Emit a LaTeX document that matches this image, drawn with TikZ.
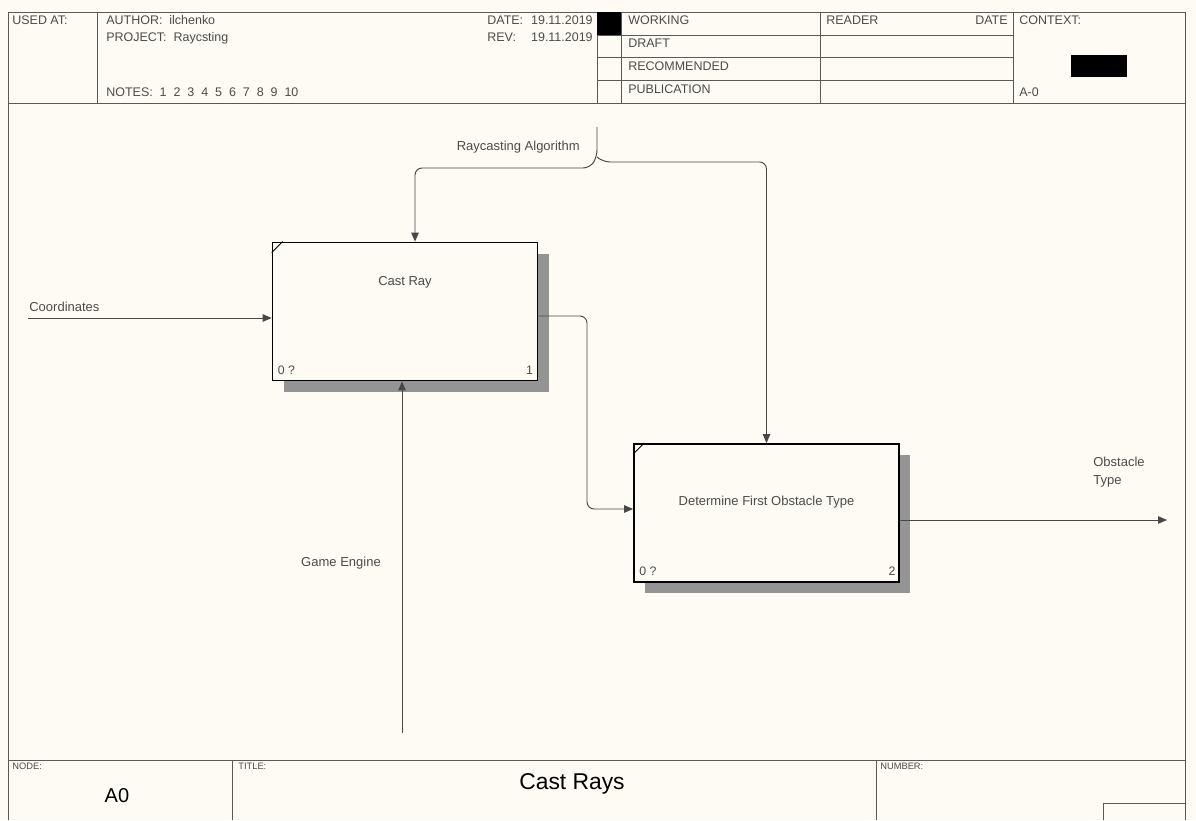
\documentclass[tikz,border=0pt]{standalone}
\usepackage{fontspec}
\setmainfont{Liberation Sans}
\usetikzlibrary{arrows.meta,positioning,calc,shadows}

\definecolor{paper}{RGB}{254,251,245}
\definecolor{ink}{RGB}{75,75,75}

\begin{document}
\begin{tikzpicture}[
    font=\fontsize{7.4}{9.7}\selectfont,
    frameline/.style={draw=black!65, line width=0.55pt},
    func/.style={draw=black, fill=paper, line width=1pt, minimum width=5.3cm, minimum height=2.76cm,
        drop shadow={shadow xshift=0.22cm, shadow yshift=-0.22cm, fill=black!42, opacity=1}},
    flow/.style={-{Triangle[length=1.8mm, width=1.5mm]}, draw=black!72, line width=0.55pt, rounded corners=4pt},
    hdr/.style={anchor=base west, inner sep=0pt, text=ink, font=\fontsize{7.1}{8}\selectfont},
    tag/.style={anchor=base west, inner sep=0pt, text=ink, font=\fontsize{5.3}{6}\selectfont},
    lbl/.style={inner sep=0pt, text=ink, align=left},
    corner/.style={inner sep=0pt, text=ink, font=\fontsize{7}{8}\selectfont}
]

    % Paper and outer frame
    \fill[paper] (0,0) rectangle (23.92,16.4);
    \draw[frameline] (0.16,0) -- (0.16,16.16) -- (23.7,16.16) -- (23.7,0);

    % Header block
    \draw[frameline] (0.16,14.34) -- (23.7,14.34);
    \draw[frameline] (1.94,16.16) -- (1.94,14.34);
    \draw[frameline] (11.94,16.16) -- (11.94,14.34);
    \draw[frameline] (12.42,16.16) -- (12.42,14.34);
    \draw[frameline] (16.4,16.16) -- (16.4,14.34);
    \draw[frameline] (20.26,16.16) -- (20.26,14.34);
    \foreach \y in {15.7,15.26,14.8}
        \draw[frameline] (11.94,\y) -- (20.26,\y);
    \fill[black] (11.94,16.16) rectangle (12.42,15.7);
    \fill[black] (21.42,15.3) rectangle (22.54,14.86);

    \node[hdr] (used_at) at (0.24,15.9) {USED AT:};
    \node[hdr] (author) at (2.12,15.9) {AUTHOR:\ \ ilchenko};
    \node[hdr] (project) at (2.12,15.56) {PROJECT:\ \ Raycsting};
    \node[hdr] (notes) at (2.12,14.46) {NOTES:\ \ 1\ \ 2\ \ 3\ \ 4\ \ 5\ \ 6\ \ 7\ \ 8\ \ 9\ \ 10};
    \node[hdr] (date_lbl) at (9.74,15.9) {DATE:};
    \node[hdr, anchor=base east] (date_val) at (11.86,15.9) {19.11.2019};
    \node[hdr] (rev_lbl) at (9.74,15.56) {REV:};
    \node[hdr, anchor=base east] (rev_val) at (11.86,15.56) {19.11.2019};
    \node[hdr] (working) at (12.56,15.9) {WORKING};
    \node[hdr] (draft) at (12.56,15.44) {DRAFT};
    \node[hdr] (recommended) at (12.56,14.98) {RECOMMENDED};
    \node[hdr] (publication) at (12.56,14.52) {PUBLICATION};
    \node[hdr] (reader) at (16.52,15.9) {READER};
    \node[hdr, anchor=base east] (reader_date) at (20.16,15.9) {DATE};
    \node[hdr] (context) at (20.38,15.9) {CONTEXT:};
    \node[hdr] (ctx_node) at (20.38,14.46) {A-0};

    % Footer block
    \draw[frameline] (0.16,1.2) -- (23.7,1.2);
    \draw[frameline] (4.64,1.2) -- (4.64,0);
    \draw[frameline] (17.52,1.2) -- (17.52,0);
    \draw[frameline] (22.06,0) |- (23.7,0.34);
    \node[tag] (node_tag) at (0.24,1.02) {NODE:};
    \node[tag] (title_tag) at (4.76,1.02) {TITLE:};
    \node[tag] (number_tag) at (17.6,1.02) {NUMBER:};
    \node[inner sep=0pt, anchor=base, font=\fontsize{11.4}{13}\selectfont] (node_val) at (2.34,0.36) {A0};
    \node[inner sep=0pt, anchor=base, font=\fontsize{13}{15}\selectfont] (title_val) at (11.44,0.62) {Cast Rays};

    % Activity boxes
    \node[func] (cast) at (8.1,10.17) {};
    \node[func] (dfo) at (15.33,6.14) {};
    \draw[black, line width=0.6pt] ($(cast.north west)+(0,-0.22)$) -- ($(cast.north west)+(0.22,0)$);
    \draw[black, line width=0.6pt] ($(dfo.north west)+(0,-0.22)$) -- ($(dfo.north west)+(0.22,0)$);
    \node[lbl] (cast_lbl) at (8.1,10.76) {Cast Ray};
    \node[lbl] (dfo_lbl) at (15.33,6.36) {Determine First Obstacle Type};
    \node[corner, anchor=base west] (cast_ref) at ($(cast.south west)+(0.12,0.14)$) {0 ?};
    \node[corner, anchor=base east] (cast_num) at ($(cast.south east)+(-0.1,0.14)$) {1};
    \node[corner, anchor=base west] (dfo_ref) at ($(dfo.south west)+(0.12,0.14)$) {0 ?};
    \node[corner, anchor=base east] (dfo_num) at ($(dfo.south east)+(-0.08,0.14)$) {2};

    % Arrow ends
    \coordinate (coord_src) at (0.56,10.04);
    \coordinate (engine_src) at (8.04,1.74);
    \coordinate (algo_src) at (11.94,13.86);
    \coordinate (algo_split) at (11.94,13.26);
    \coordinate (obst_dst) at (23.34,6.0);

    % Arrows
    \draw[flow] (coord_src) -- (coord_src -| cast.west);
    \draw[flow] (engine_src) -- (engine_src |- cast.south);
    \draw[flow] (algo_src) -- (algo_split) -- (11.8,13.04) -- (8.3,13.04) -- (8.3,13.04 |- cast.north);
    \draw[flow] (algo_split) -- (12.06,13.16) -- (15.33,13.16) -- (dfo.north);
    \draw[flow] ($(cast.east)+(0,-0.09)$) -| (11.74,6.22) -- (11.74,6.22 -| dfo.west);
    \draw[flow] (obst_dst -| dfo.east) -- (obst_dst);

    % Arrow labels
    \node[lbl, anchor=base west] (coord_lbl) at (0.58,10.18) {Coordinates};
    \node[lbl, anchor=base] (engine_lbl) at (6.82,5.08) {Game Engine};
    \node[lbl, anchor=base east] (algo_lbl) at (11.6,13.4) {Raycasting Algorithm};
    \node[lbl, anchor=base west] (obst_lbl) at (21.86,6.72) {Obstacle\\Type};

\end{tikzpicture}
\end{document}
